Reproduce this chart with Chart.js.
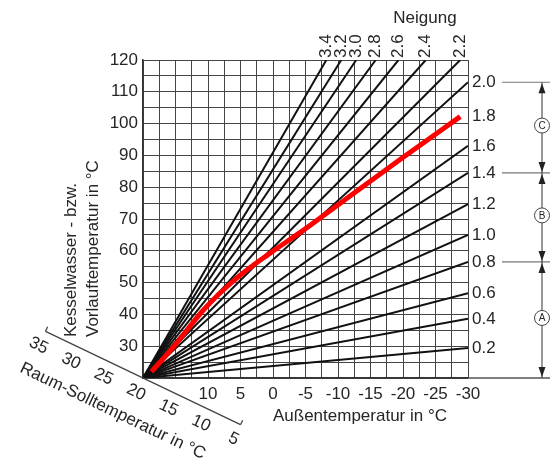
<!DOCTYPE html>
<html>
<head>
<meta charset="utf-8">
<script src="https://cdn.jsdelivr.net/npm/chart.js@4/dist/chart.umd.min.js"></script>
<style>
  html, body { margin: 0; padding: 0; background: #fff; }
  #wrap { width: 550px; height: 467px; position: relative; }
</style>
</head>
<body>
<div id="wrap"><canvas id="c"></canvas></div>
<script>
// ---- data ----
const slopeLabels    = ['0.2','0.4','0.6','0.8','1.0','1.2','1.4','1.6','2.0','2.2','2.4','2.6','2.8','3.0','3.2','3.4'];
const lineEndOutdoor = [-30, -30, -30, -30, -30, -30, -30, -30, -30, -28.8, -23.5, -19.3, -15.8, -12.8, -10.5, -8.2];
const lineEndFlow    = [29.4, 38.6, 46.7, 56.5, 65.0, 74.7, 84.5, 93.0, 113.0, 120, 120, 120, 120, 120, 120, 120];
const originOutdoor = 20;
const originFlow = 20;
const redLabel = '1.8';
const redOutdoor = [18.7, 15.3, 10.7, 5.6, 0.5, -4.7, -10.3, -19.5, -28.8];
const redFlow    = [22.0, 29.8, 41.4, 51.4, 59.2, 66.5, 74.9, 88.6, 102.2];
const roomTicks = [35, 30, 25, 20, 15, 10, 5];
const groupEdges = ['2.0', '1.4', '0.8'];
const groupNames = ['C', 'B', 'A'];

// ---- build datasets ----
const datasets = [];
datasets.push({
  data: redOutdoor.map((v, i) => ({x: v, y: redFlow[i]})),
  borderColor: '#ff0000', borderWidth: 5, cubicInterpolationMode: 'monotone', order: 0,
  pointRadius: 0, showLine: true, fill: false
});
slopeLabels.forEach((lab, i) => {
  datasets.push({
    label: lab,
    data: [{x: originOutdoor, y: originFlow}, {x: lineEndOutdoor[i], y: lineEndFlow[i]}],
    borderColor: '#111', borderWidth: 2, order: 1,
    pointRadius: 0, showLine: true, fill: false
  });
});

const FONT = '"Liberation Sans", Arial, Helvetica, sans-serif';
const TXT = '#262626';
const f = s => `${s}px ${FONT}`;

const annot = {
  id: 'annot',
  afterDraw(chart) {
    const {ctx, chartArea: ca, scales: {x, y}} = chart;
    ctx.save();
    // baseline extension to the right
    ctx.strokeStyle = '#555'; ctx.lineWidth = 1.5;
    ctx.beginPath(); ctx.moveTo(ca.right, ca.bottom); ctx.lineTo(chart.width, ca.bottom); ctx.stroke();

    // right-hand slope labels
    ctx.fillStyle = TXT; ctx.font = f(17); ctx.textAlign = 'left'; ctx.textBaseline = 'middle';
    const edgeY = {};
    slopeLabels.forEach((lab, i) => {
      if (lineEndOutdoor[i] === x.min) {
        const py = y.getPixelForValue(lineEndFlow[i]);
        edgeY[lab] = py;
        ctx.fillText(lab, ca.right + 4, py);
      }
    });
    ctx.fillText(redLabel, ca.right + 4, y.getPixelForValue(redFlow[redFlow.length - 1]));

    // top slope labels (rotated)
    slopeLabels.forEach((lab, i) => {
      if (lineEndFlow[i] === y.max) {
        const px = x.getPixelForValue(lineEndOutdoor[i]);
        ctx.save(); ctx.translate(px, ca.top - 2); ctx.rotate(-Math.PI / 2);
        ctx.textAlign = 'left'; ctx.textBaseline = 'middle'; ctx.fillText(lab, 0, 0);
        ctx.restore();
      }
    });
    ctx.textAlign = 'center'; ctx.textBaseline = 'alphabetic'; ctx.font = f(17);
    ctx.fillText('Neigung', 425, 23);

    // bracket on the right
    const bx = 542;
    const ys = groupEdges.map(l => edgeY[l]).concat([ca.bottom]);
    ctx.strokeStyle = '#777'; ctx.lineWidth = 1.2;
    groupEdges.forEach(l => {
      ctx.beginPath(); ctx.moveTo(502, edgeY[l]); ctx.lineTo(chart.width, edgeY[l]); ctx.stroke();
    });
    ctx.strokeStyle = '#333'; ctx.lineWidth = 1;
    ctx.beginPath(); ctx.moveTo(bx, ys[0]); ctx.lineTo(bx, ys[ys.length - 1]); ctx.stroke();
    ctx.fillStyle = '#222';
    const arrow = (yy, dir) => { // dir -1 tip up, +1 tip down
      ctx.beginPath(); ctx.moveTo(bx, yy); ctx.lineTo(bx - 3.5, yy - dir * 10); ctx.lineTo(bx + 3.5, yy - dir * 10); ctx.closePath(); ctx.fill();
    };
    for (let g = 0; g < groupNames.length; g++) {
      const y0 = ys[g] + 1, y1 = ys[g + 1] - 1;
      arrow(y0, -1); arrow(y1, 1);
      const cy = (ys[g] + ys[g + 1]) / 2 - 2;
      ctx.beginPath(); ctx.arc(bx, cy, 7.5, 0, Math.PI * 2);
      ctx.fillStyle = '#fff'; ctx.fill(); ctx.strokeStyle = '#444'; ctx.stroke();
      ctx.fillStyle = TXT; ctx.font = f(10); ctx.textAlign = 'center'; ctx.textBaseline = 'middle';
      ctx.fillText(groupNames[g], bx, cy + 0.5);
      ctx.fillStyle = '#222';
    }

    // room set-point axis (skewed)
    const shear = 0.479, ang = Math.atan(shear);
    const ox = x.getPixelForValue(originOutdoor), oy = y.getPixelForValue(originFlow);
    const pt = r => { const px = x.getPixelForValue(r); return [px, oy + (px - ox) * shear]; };
    const a = pt(roomTicks[0]), b = pt(roomTicks[roomTicks.length - 1]);
    ctx.strokeStyle = '#444'; ctx.lineWidth = 1.3;
    ctx.beginPath(); ctx.moveTo(a[0], a[1]); ctx.lineTo(b[0], b[1]); ctx.stroke();
    const nx = Math.sin(ang), ny = -Math.cos(ang);
    [a, b].forEach(p => { ctx.beginPath(); ctx.moveTo(p[0], p[1]); ctx.lineTo(p[0] + nx * 5, p[1] + ny * 5); ctx.stroke(); });
    ctx.fillStyle = TXT; ctx.font = f(17); ctx.textAlign = 'center'; ctx.textBaseline = 'middle';
    roomTicks.forEach(r => {
      const p = pt(r);
      ctx.save(); ctx.translate(p[0] - nx * 16, p[1] - ny * 16); ctx.rotate(ang); ctx.fillText(String(r), 0, 0); ctx.restore();
    });
    const tp = pt(21.8);
    ctx.save(); ctx.translate(tp[0] - nx * 43, tp[1] - ny * 43); ctx.rotate(ang);
    ctx.fillText('Raum-Solltemperatur in °C', 0, 0); ctx.restore();

    // y title (two lines)
    ctx.textAlign = 'left';
    ctx.save(); ctx.translate(71, 337); ctx.rotate(-Math.PI / 2); ctx.fillText('Kesselwasser - bzw.', 0, 0); ctx.restore();
    ctx.save(); ctx.translate(93, 337); ctx.rotate(-Math.PI / 2); ctx.fillText('Vorlauftemperatur in °C', 0, 0); ctx.restore();

    // x title
    ctx.textAlign = 'center';
    ctx.fillText('Außentemperatur in °C', 360, 416);
    ctx.restore();
  }
};

new Chart(document.getElementById('c'), {
  type: 'scatter',
  data: { datasets },
  options: {
    responsive: true, maintainAspectRatio: false, animation: false, devicePixelRatio: 1,
    layout: { padding: { left: 0, right: 82, top: 60, bottom: 0 } },
    plugins: { legend: { display: false }, tooltip: { enabled: false } },
    scales: {
      x: {
        type: 'linear', reverse: true, min: -30, max: 20,
        afterFit: s => { s.height = 89; },
        ticks: {
          stepSize: 2.5, autoSkip: false, maxRotation: 0, padding: 6,
          color: TXT, font: { family: FONT, size: 17 },
          callback: v => (v % 5 === 0 && v <= 10) ? String(v) : ''
        },
        grid: { color: '#444', lineWidth: 1, drawTicks: false },
        border: { color: '#333', width: 1.5 }
      },
      y: {
        type: 'linear', min: 20, max: 120,
        afterFit: s => { s.width = 143; },
        ticks: {
          stepSize: 5, autoSkip: false, padding: 5,
          color: TXT, font: { family: FONT, size: 17 },
          callback: v => (v % 10 === 0 && v > 20) ? String(v) : ''
        },
        grid: { color: '#444', lineWidth: 1, drawTicks: false },
        border: { color: '#333', width: 1.5 }
      }
    }
  },
  plugins: [annot]
});
</script>
</body>
</html>
